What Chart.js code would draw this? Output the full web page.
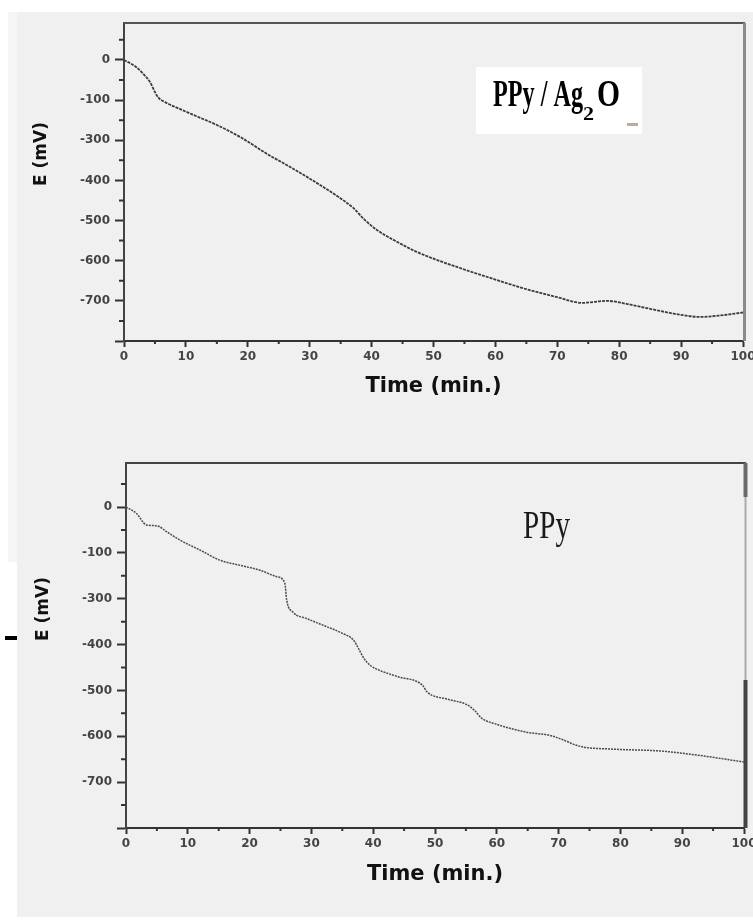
<!DOCTYPE html>
<html>
<head>
<meta charset="utf-8">
<script src="https://cdn.jsdelivr.net/npm/chart.js@4.4.1/dist/chart.umd.min.js"></script>
<style>
  html, body { margin: 0; padding: 0; background: #fff; overflow: hidden; width: 753px; height: 924px; }
  #sheet { position: absolute; left: 17px; top: 12px; width: 736px; height: 905px; background: #f0f0f0; }
  #strip { position: absolute; left: 8px; top: 12px; width: 9px; height: 550px; background: #f5f5f5; }
  canvas { position: absolute; left: 0; }
  #ag { top: 0; }
  #ppy { top: 420px; }
</style>
</head>
<body>
<div id="sheet"></div>
<div id="strip"></div>
<canvas id="ag" width="760" height="420"></canvas>
<canvas id="ppy" width="760" height="504"></canvas>
<script>
// PPy / Ag2O curve
const agTime = [0, 2, 3, 4.2, 5, 5.5, 7, 9, 12, 15, 19, 23, 27, 31, 35, 37, 39, 41, 44, 47, 50, 55, 60, 65, 70, 74, 78, 81, 85, 90, 93, 96, 100];
const agE = [0, -18, -33, -55, -80, -93, -108, -122, -142, -162, -194, -233, -268, -305, -345, -368, -400, -425, -452, -476, -495, -522, -547, -571, -591, -605, -600, -607, -620, -635, -640, -637, -629];

// PPy curve
const ppyTime = [0, 1.7, 3.3, 5, 6.6, 8.7, 12, 15.2, 18.4, 21.7, 24.4, 25.7, 26, 27, 29.2, 32.5, 35.1, 36.8, 37.6, 38.5, 39.5, 41, 44, 48, 48.7, 52, 55.3, 56.5, 57.5, 60, 64.8, 68.6, 70.2, 73.5, 78.8, 86.4, 92.4, 100];
const ppyE = [0, -14, -39, -41, -54, -72, -94, -116, -127, -138, -152, -166, -203, -229, -243, -261, -276, -290, -308, -330, -345, -356, -370, -389, -403, -419, -432, -445, -460, -474, -491, -498, -505, -522, -528, -532, -541, -556];

// axes (the printed y labels skip -200, kept as in the figure)
const xTicks = [0, 10, 20, 30, 40, 50, 60, 70, 80, 90, 100];
const xMinor = [5, 15, 25, 35, 45, 55, 65, 75, 85, 95];
const yTicks = [0, -100, -200, -300, -400, -500, -600, -700];
const yTickLabels = ['0', '-100', '-300', '-400', '-500', '-600', '-700', ''];
const yMinor = [50, -50, -150, -250, -350, -450, -550, -650];

const tickFont = { family: 'DejaVu Sans', weight: 'bold', size: 12 };

function fitText(ctx, text, x0, x1, base, font) {
  ctx.font = font;
  const w = ctx.measureText(text).width;
  ctx.save();
  ctx.translate(x0, base);
  ctx.scale((x1 - x0) / w, 1);
  ctx.fillText(text, 0, 0);
  ctx.restore();
}

function decor(o) {
  return {
    id: 'decor',
    afterDraw(chart) {
      const { ctx, chartArea: a, scales: { x, y } } = chart;
      ctx.save();
      // minor ticks
      ctx.strokeStyle = '#333';
      ctx.lineWidth = 2;
      ctx.beginPath();
      yMinor.forEach(v => {
        const py = y.getPixelForValue(v);
        ctx.moveTo(a.left - 5, py); ctx.lineTo(a.left, py);
      });
      xMinor.forEach(v => {
        const px = x.getPixelForValue(v);
        ctx.moveTo(px, a.bottom); ctx.lineTo(px, a.bottom + 3);
      });
      ctx.stroke();

      // frame top + right
      ctx.strokeStyle = o.topColor;
      ctx.lineWidth = 2;
      ctx.beginPath();
      ctx.moveTo(a.left, a.top); ctx.lineTo(a.right + 2, a.top);
      ctx.stroke();
      o.rightSegs.forEach(s => {
        ctx.strokeStyle = s[2];
        ctx.lineWidth = s[3];
        ctx.beginPath();
        ctx.moveTo(a.right + 1.5, a.top + s[0]);
        ctx.lineTo(a.right + 1.5, s[1] < 0 ? a.bottom : a.top + s[1]);
        ctx.stroke();
      });

      // y title
      ctx.fillStyle = '#111';
      ctx.font = 'bold 17px "DejaVu Sans"';
      ctx.textAlign = 'center';
      ctx.textBaseline = 'middle';
      ctx.save();
      ctx.translate(o.yTitle[0], o.yTitle[1]);
      ctx.rotate(-Math.PI / 2);
      ctx.fillText('E (mV)', 0, 0);
      ctx.restore();

      ctx.textAlign = 'left';
      ctx.textBaseline = 'alphabetic';
      o.label(ctx, a);
      ctx.restore();
    }
  };
}

function makeChart(id, times, values, o) {
  const points = times.map((t, i) => ({ x: t, y: values[i] }));
  return new Chart(document.getElementById(id), {
    type: 'line',
    data: {
      datasets: [{
        data: points,
        borderColor: o.lineColor,
        borderWidth: o.lineWidth,
        borderDash: o.dash,
        pointRadius: 0,
        cubicInterpolationMode: 'monotone',
        fill: false
      }]
    },
    options: {
      responsive: false,
      animation: false,
      events: [],
      layout: { padding: { left: 0, top: o.top, right: o.right, bottom: 0 } },
      plugins: { legend: { display: false }, tooltip: { enabled: false } },
      scales: {
        x: {
          type: 'linear',
          min: 0,
          max: 100,
          afterBuildTicks: s => { s.ticks = xTicks.map(v => ({ value: v })); },
          afterFit: s => { s.height = o.xHeight; },
          grid: { display: true, drawOnChartArea: false, drawTicks: true, tickLength: 6, tickWidth: 2, tickColor: '#333' },
          border: { display: true, color: '#333', width: 2 },
          ticks: { padding: 3, color: '#444', font: tickFont, maxRotation: 0, autoSkip: false, callback: v => String(v) },
          title: {
            display: true,
            text: 'Time (min.)',
            color: '#111',
            font: { family: 'DejaVu Sans', weight: 'bold', size: 21 },
            padding: { top: 0, bottom: o.xTitlePad }
          }
        },
        y: {
          type: 'linear',
          min: -700,
          max: o.yMax,
          afterBuildTicks: s => { s.ticks = yTicks.map(v => ({ value: v })); },
          afterFit: s => { s.width = o.left; },
          grid: { display: true, drawOnChartArea: false, drawTicks: true, tickLength: 9, tickWidth: 2, tickColor: '#333' },
          border: { display: true, color: '#444', width: 2 },
          ticks: {
            padding: 5,
            color: '#444',
            font: tickFont,
            autoSkip: false,
            callback: v => { const i = yTicks.indexOf(v); return i < 0 ? '' : yTickLabels[i]; }
          }
        }
      }
    },
    plugins: [decor(o)]
  });
}

makeChart('ag', agTime, agE, {
  left: 124, top: 23, right: 17, xHeight: 79, xTitlePad: 21, yMax: 92,
  lineColor: '#3c3c3c', lineWidth: 1.8, dash: [3, 1],
  topColor: '#555',
  rightSegs: [[0, -1, '#8a8a8a', 3]],
  yTitle: [42, 154],
  label: (ctx) => {
    ctx.fillStyle = '#fff';
    ctx.fillRect(476, 67, 166, 67);
    ctx.fillStyle = '#000';
    fitText(ctx, 'PPy / Ag', 493, 583, 106, 'bold 37px "Liberation Serif"');
    fitText(ctx, '2', 583, 594, 120, 'bold 19px "Liberation Serif"');
    fitText(ctx, 'O', 597, 620, 106, 'bold 37px "Liberation Serif"');
    ctx.fillStyle = '#b9ad9e';
    ctx.fillRect(627, 123, 11, 3);
  }
});

makeChart('ppy', ppyTime, ppyE, {
  left: 126, top: 43, right: 16, xHeight: 96, xTitlePad: 37, yMax: 96,
  lineColor: '#4a4a4a', lineWidth: 1.5, dash: [2, 1],
  topColor: '#444',
  rightSegs: [[0, 34, '#6a6a6a', 4], [34, 217, '#aaaaaa', 2], [217, -1, '#444', 4]],
  yTitle: [44, 189],
  label: (ctx) => {
    ctx.fillStyle = '#1a1a1a';
    fitText(ctx, 'PPy', 523, 570, 118, '39px "Liberation Serif"');
    ctx.fillStyle = '#000';
    ctx.fillRect(5, 216, 12, 4);
  }
});
</script>
</body>
</html>
